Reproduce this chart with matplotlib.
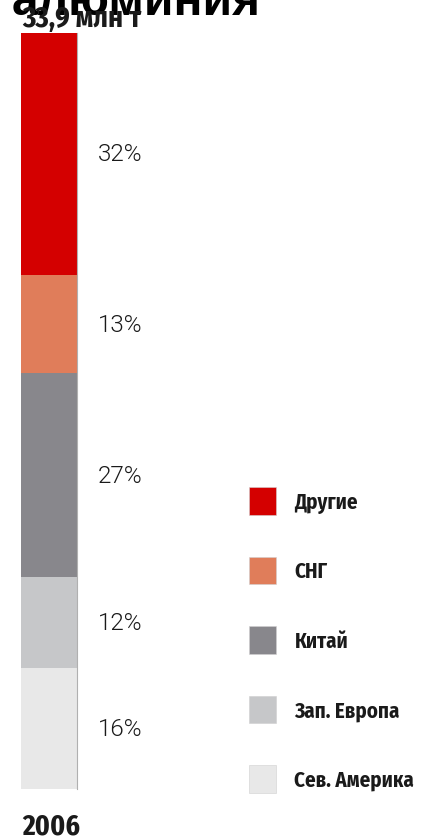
import matplotlib
matplotlib.use("Agg")
import matplotlib.pyplot as plt
from matplotlib.patches import Patch

XCOND = ["Fira Sans Extra Condensed", "Roboto Condensed", "DejaVu Sans"]
COND = ["Fira Sans Condensed", "Roboto Condensed", "DejaVu Sans"]

year = "2006"
total_label = "33,9 млн т"
title = "алюминия"
categories = ["Сев. Америка", "Зап. Европа", "Китай", "СНГ", "Другие"]
shares = [16, 12, 27, 13, 32]
colors = ["#e8e8e8", "#c6c7c9", "#88878c", "#e07d5a", "#d40000"]

W, H = 423, 837
fig = plt.figure(figsize=(W / 100, H / 100), dpi=100)

ax = fig.add_axes([21 / W, (H - 790) / H, 56 / W, 756 / H])
bottom = 0
for cat, val, col in zip(categories, shares, colors):
    ax.bar(0, val, bottom=bottom, width=1.0, color=col, linewidth=0)
    ax.text(1.77, bottom + val / 2, f"{val}%", transform=ax.get_yaxis_transform(),
            ha="center", va="center", fontsize=17.5, color="#1a1a1a",
            family=["Roboto", "DejaVu Sans"], fontweight=300)
    bottom += val
ax.set_xlim(-0.5, 0.5)
ax.set_ylim(0, sum(shares))
ax.set_xticks([])
ax.set_yticks([])
for s in ["top", "left", "bottom"]:
    ax.spines[s].set_visible(False)
ax.spines["right"].set_color("#b0b0b0")
ax.spines["right"].set_linewidth(0.8)

fig.text(12 / W, 1 - 15 / H, title, ha="left", va="baseline", fontsize=34.5,
         fontweight="bold", family=["Liberation Sans", "DejaVu Sans"], color="black")
fig.text(22 / W, 1 - 27 / H, total_label, ha="left", va="baseline", fontsize=20.5,
         fontweight="bold", family=COND, color="#1a1a1a")
fig.text(22 / W, 1 - 835 / H, year, ha="left", va="baseline", fontsize=21.5,
         fontweight="bold", family=XCOND, color="#1a1a1a")

handles = [Patch(facecolor=c, edgecolor="#d0d0d0", linewidth=0.4, label=l)
           for l, c in zip(categories[::-1], colors[::-1])]
leg = fig.legend(handles=handles, loc="upper left",
                 bbox_to_anchor=(249 / W, 1 - 488 / H), frameon=False,
                 prop={"family": COND, "weight": "bold", "size": 15},
                 handlelength=1.3, handleheight=1.68, labelspacing=2.0,
                 handletextpad=0.88, borderpad=0, borderaxespad=0)
for t in leg.get_texts():
    t.set_color("#1a1a1a")

fig.savefig("out.png", dpi=100)
